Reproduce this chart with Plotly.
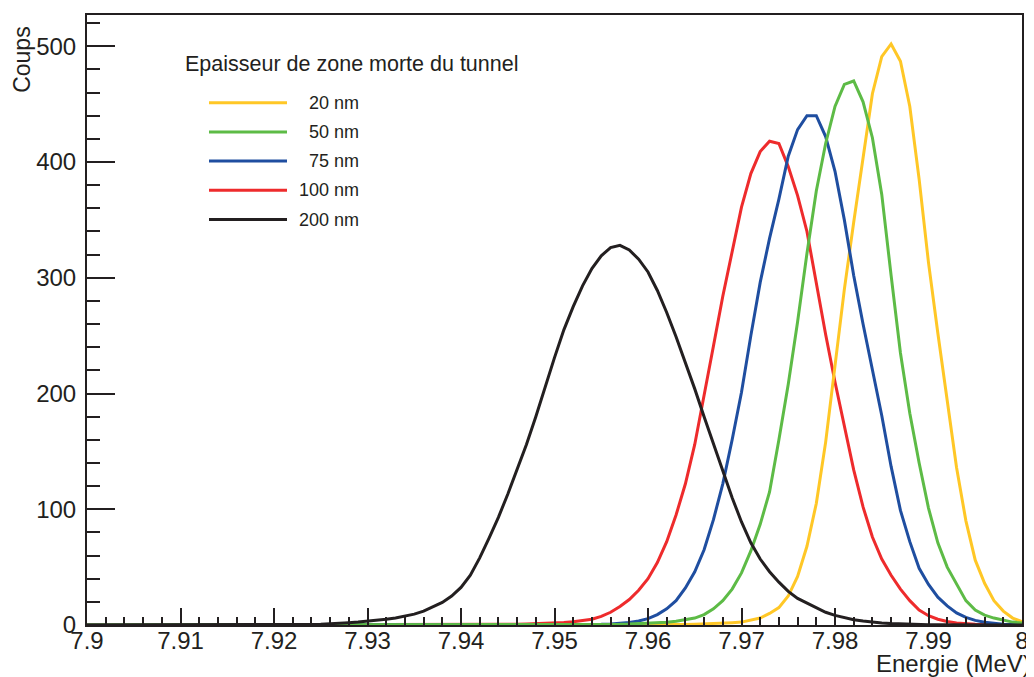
"""Spectres en energie selon l'epaisseur de zone morte du tunnel"""

import plotly.graph_objects as go

# bins de 1 keV entre 7.9 et 8.0 MeV
energie = [round(7.9 + 0.001 * k, 3) for k in range(101)]

coups_20nm = [
    0, 0, 0, 0, 0, 0, 0, 0, 0, 0,
    0, 0, 0, 0, 0, 0, 0, 0, 0, 0,
    0, 0, 0, 0, 0, 0, 0, 0, 0, 0,
    0, 0, 0, 0, 0, 0, 0, 0, 0, 0,
    0, 0, 0, 0, 0, 0, 0, 0, 0, 0,
    0, 0, 0, 0, 0, 0, 0, 0, 0, 0,
    0.1, 0.2, 0.3, 0.4, 0.5, 0.7, 0.9, 1.2, 1.6, 2.0,
    2.5, 4, 6, 10, 15, 25, 42, 68, 105, 158,
    222, 290, 348, 403, 459, 491, 502, 487, 448, 385,
    313, 252, 192, 136, 90, 56, 36, 21, 12, 6,
    3,
]
coups_50nm = [
    0, 0, 0, 0, 0, 0, 0, 0, 0, 0,
    0, 0, 0, 0, 0, 0, 0, 0, 0, 0,
    0, 0, 0, 0, 0, 0, 0, 0, 0, 0,
    0, 0, 0, 0, 0, 0, 0, 0, 0, 0,
    0, 0, 0, 0, 0, 0, 0, 0, 0, 0,
    0, 0, 0, 0, 0, 0.3, 0.45, 0.6, 0.8, 1.1,
    1.5, 1.9, 2.4, 3.2, 4.4, 6, 9, 14, 21, 31,
    45, 64, 87, 115, 160, 208, 262, 321, 375, 416,
    448, 467, 470, 452, 421, 372, 302, 235, 183, 140,
    101, 71, 50, 35, 21, 13, 8.5, 6, 4, 2.5,
    1.8,
]
coups_75nm = [
    0, 0, 0, 0, 0, 0, 0, 0, 0, 0,
    0, 0, 0, 0, 0, 0, 0, 0, 0, 0,
    0, 0, 0, 0, 0, 0, 0, 0, 0, 0,
    0, 0, 0, 0, 0, 0, 0, 0, 0, 0,
    0, 0, 0, 0, 0, 0, 0, 0, 0, 0,
    0.1, 0.15, 0.2, 0.3, 0.4, 0.6, 0.9, 1.4, 2.2, 3.5,
    5.5, 9, 14, 21, 32, 46, 65, 91, 122, 160,
    201, 250, 296, 334, 368, 405, 428, 440, 440, 422,
    392, 350, 302, 260, 220, 181, 137, 99, 72, 49,
    35, 24, 16.5, 10.5, 6.6, 4.0, 2.3, 1.3, 0.7, 0.4,
    0.2,
]
coups_100nm = [
    0, 0, 0, 0, 0, 0, 0, 0, 0, 0,
    0, 0, 0, 0, 0, 0, 0, 0, 0, 0,
    0, 0, 0, 0, 0, 0, 0, 0, 0, 0,
    0, 0, 0, 0, 0, 0, 0, 0, 0, 0,
    0, 0, 0, 0, 0, 0.4, 0.6, 0.8, 1.0, 1.3,
    1.7, 2.1, 2.8, 3.7, 5.0, 7.5, 11, 16, 22, 30,
    40, 54, 72, 95, 122, 156, 197, 241, 284, 324,
    361, 390, 409, 418, 416, 396, 371, 340, 295, 251,
    210, 171, 134, 102, 76, 57, 43, 31, 21, 13,
    8, 5, 3, 1.8, 1.0, 0.6, 0.35, 0.2, 0.1, 0,
    0,
]
coups_200nm = [
    0, 0, 0, 0, 0, 0, 0, 0, 0, 0,
    0, 0, 0, 0, 0, 0, 0, 0, 0, 0,
    0.1, 0.15, 0.2, 0.3, 0.5, 0.7, 1.0, 1.4, 2.0, 2.6,
    3.3, 4.1, 5.0, 6.1, 7.5, 9.4, 12, 15.5, 19.5, 25,
    32.5, 43, 58, 75, 93, 113, 134, 156, 180, 206,
    231, 255, 275, 293, 308, 319, 326, 328, 324, 316,
    305, 289, 270, 249, 227, 204, 180, 156, 132, 110,
    89, 71, 57, 46, 37, 29, 23, 19, 14.5, 11,
    8.3, 6.2, 4.6, 3.4, 2.4, 1.7, 1.2, 0.8, 0.6, 0.4,
    0.25, 0.15, 0.1, 0, 0, 0, 0, 0, 0, 0,
    0,
]

noms = ["20 nm", "50 nm", "75 nm", "100 nm", "200 nm"]
couleurs = ["#FFC726", "#5DBB46", "#1F4EA0", "#EE2B2C", "#231F20"]
spectres = [coups_20nm, coups_50nm, coups_75nm, coups_100nm, coups_200nm]
# ordre de trace (du dessous vers le dessus) : le noir recouvre tout
ordre = [3, 0, 2, 1, 4]

# la page ajoute une marge de 8 px autour de la figure
OFF = 8
W, H = 1034 - OFF, 677 - OFF
L, R, T, B = 87 - OFF, 12, 13 - OFF, 52
AXE = "#231F20"
POLICE = "Liberation Sans, Arial, sans-serif"


def px(x, y):
    """pixel de la page -> coordonnees paper"""
    return ((x - OFF - L) / (W - L - R),
            (H - B - (y - OFF)) / (H - T - B))


fig = go.Figure()
for i in ordre:
    fig.add_trace(
        go.Scatter(x=energie, y=spectres[i], name=noms[i], mode="lines",
                   line=dict(color=couleurs[i], width=3))
    )

fig.update_layout(
    width=W, height=H,
    margin=dict(l=L, r=R, t=T, b=B),
    plot_bgcolor="white", paper_bgcolor="white",
    showlegend=False,
    font=dict(family=POLICE, color=AXE),
)
fig.update_xaxes(
    range=[7.9, 8.0], tick0=7.9, dtick=0.01,
    ticks="inside", ticklen=17, tickwidth=1.5, tickcolor=AXE,
    minor=dict(ticks="inside", ticklen=8, tickwidth=1.5, tickcolor=AXE,
               tick0=7.9, dtick=0.002, showgrid=False),
    showline=True, linewidth=2, linecolor=AXE, mirror=True,
    showgrid=False, zeroline=False,
    tickfont=dict(size=24), ticklabelstandoff=-7,
)
fig.update_yaxes(
    range=[0, 527], tick0=0, dtick=100,
    ticks="inside", ticklen=28, tickwidth=1.5, tickcolor=AXE,
    minor=dict(ticks="inside", ticklen=13, tickwidth=1.5, tickcolor=AXE,
               tick0=0, dtick=20, showgrid=False),
    showline=True, linewidth=2, linecolor=AXE, mirror=True,
    showgrid=False, zeroline=False,
    tickfont=dict(size=24), ticklabelstandoff=4,
)

# titres des axes, a la ROOT
fig.add_annotation(text="Coups", xref="paper", yref="paper",
                   x=px(22, 0)[0], y=px(0, 58)[1], textangle=-90,
                   showarrow=False, font=dict(size=23),
                   xanchor="center", yanchor="middle")
fig.add_annotation(text="Energie (MeV)", xref="paper", yref="paper",
                   x=px(1033, 0)[0], y=px(0, 664)[1],
                   showarrow=False, font=dict(size=24),
                   xanchor="right", yanchor="middle")

# legende dessinee a la main
hx, hy = px(183, 62)
fig.add_annotation(text="Epaisseur de zone morte du tunnel",
                   xref="paper", yref="paper", x=hx, y=hy,
                   showarrow=False, font=dict(size=21.5),
                   xanchor="left", yanchor="middle")
for i, (nom, c) in enumerate(zip(noms, couleurs)):
    ypix = 101 + 29.3 * i
    x0, yy = px(209, ypix)
    x1, _ = px(287, ypix)
    xt, _ = px(361, ypix)
    fig.add_shape(type="line", xref="paper", yref="paper",
                  x0=x0, x1=x1, y0=yy, y1=yy,
                  line=dict(color=c, width=3))
    fig.add_annotation(text=nom, xref="paper", yref="paper", x=xt, y=yy,
                       showarrow=False, font=dict(size=18),
                       xanchor="right", yanchor="middle")

fig.write_html("out.html")
